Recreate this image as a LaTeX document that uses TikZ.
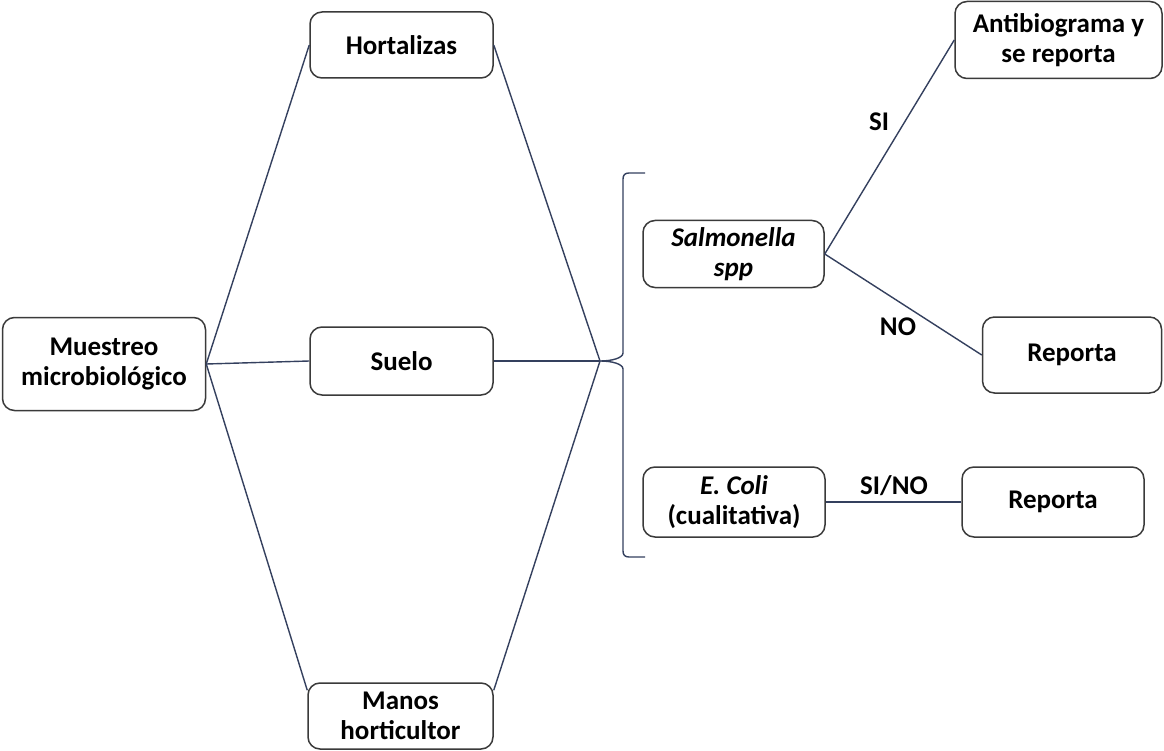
\documentclass[tikz,border=0pt]{standalone}
\usepackage{fontspec}
\setmainfont{Carlito}
\definecolor{linec}{HTML}{34405E}
\definecolor{boxc}{HTML}{3A3A3A}
\begin{document}
\begin{tikzpicture}[x=1pt,y=-1pt,
  box/.style={draw=boxc,line width=1.5pt,rounded corners=12pt,fill=white,align=center,
    font=\fontsize{27}{30}\selectfont\bfseries,inner sep=2pt},
  conn/.style={draw=linec,line width=1.4pt},
  lbl/.style={font=\fontsize{27}{30}\selectfont\bfseries,inner sep=0pt}]
\useasboundingbox (0,0) rectangle (1164,751);
\fill[white] (0,0) rectangle (1164,751);
% nodes
\node[box,minimum width=203pt,minimum height=93pt] (mu) at (104,364) {Muestreo\\microbiológico};
\node[box,minimum width=183pt,minimum height=66pt] (ho) at (401.5,45) {Hortalizas};
\node[box,minimum width=183pt,minimum height=68pt] (su) at (401.5,361) {Suelo};
\node[box,minimum width=185pt,minimum height=66pt] (ma) at (400.5,716) {Manos\\horticultor};
\node[box,minimum width=181pt,minimum height=67pt] (sa) at (733.5,254) {\itshape Salmonella\\\itshape spp};
\node[box,minimum width=182pt,minimum height=70pt] (ec) at (734,502) {\itshape E. Coli\\(cualitativa)};
\node[box,minimum width=207pt,minimum height=77pt] (an) at (1058.5,40) {Antibiograma y\\se reporta};
\node[box,minimum width=179pt,minimum height=76pt] (r1) at (1072,355) {Reporta};
\node[box,minimum width=182pt,minimum height=70pt] (r2) at (1053,502) {Reporta};
% brace
\coordinate (tip) at (600,361);
\draw[conn] (645,173) -- (629,173) .. controls (625,173) and (623,175) .. (623,179)
  -- (623,353) .. controls (623,358) and (612,361) .. (tip)
  .. controls (612,361) and (623,364) .. (623,369)
  -- (623,551) .. controls (623,555) and (625,557) .. (629,557) -- (645,557);
% connectors
\draw[conn] (mu.east) -- (ho.west);
\draw[conn] (mu.east) -- (su.west);
\draw[conn] (mu.east) -- ([yshift=-8pt]ma.north west);
\draw[conn] (ho.east) -- (tip);
\draw[conn] (su.east) -- (tip);
\draw[conn] ([yshift=-8pt]ma.north east) -- (tip);
\draw[conn] (sa.east) -- (an.west);
\draw[conn] (sa.east) -- (r1.west);
\draw[conn] (ec.east) -- (r2.west);
% labels
\node[lbl] (lsi) at (879,122) {SI};
\node[lbl] (lno) at (898,327) {NO};
\node[lbl] (lsino) at (894,486) {SI/NO};
\end{tikzpicture}
\end{document}
